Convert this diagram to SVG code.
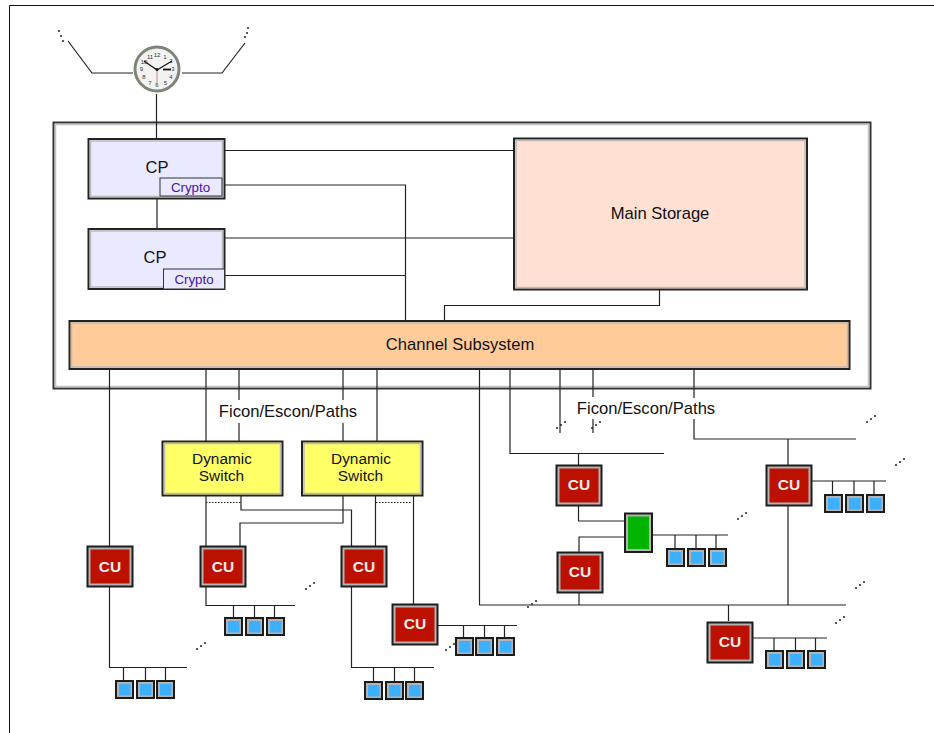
<svg xmlns="http://www.w3.org/2000/svg" xmlns:xlink="http://www.w3.org/1999/xlink" width="934" height="733" viewBox="0 0 934 733">
<style>
text{font-family:"Liberation Sans",Arial,sans-serif;text-anchor:middle;fill:#111}
.c{fill:none;stroke:#222;stroke-width:1.2}
.d{fill:none;stroke:#222;stroke-width:1;stroke-dasharray:1.5 1.5}
.o{stroke:#1c1c1c;stroke-width:2;fill:#b4b4b4}
.cu{fill:#bc1000}
.cut{font-size:15.5px;font-weight:bold;fill:#f4ece8}
.dot{fill:#222}
.t{font-size:16.6px}
.s{font-size:15.4px}
.cr{font-size:13.3px;fill:#4a12ac}
.n{font-size:6px;fill:#333}
</style>
<defs>
<g id="term"><rect class="o" x="1" y="1" width="17" height="17"/><rect x="4" y="4" width="11.500" height="11.500" fill="#3cb0ff"/></g>
<g id="cuBox"><rect class="o" x=".5" y=".5" width="45" height="40"/><rect class="cu" x="3.500" y="3.500" width="39" height="34"/></g>
<g id="dots"><circle class="dot" cx="0" cy="6" r="1"/><circle class="dot" cx="4" cy="3" r="1"/><circle class="dot" cx="8" cy="0" r="1"/></g>
</defs>
<rect width="934" height="733" fill="#fff"/>
<path d="M934 5.500H9.500V733" fill="none" stroke="#111" stroke-width="1"/>

<g id="system-box"><rect x="53.500" y="122.500" width="817" height="266" fill="#fff" stroke="#333" stroke-width="2"/><rect x="55.500" y="124.500" width="813" height="262" fill="none" stroke="#c4c4c4" stroke-width="1.500"/></g>

<g id="connectors">
<path class="c" d="M68 41L92 73H133M245 43L222 73H182M156.500 94V139"/>
<path class="c" d="M225 150.500H514M225 185H405.500V321M225 238H514M225 275.500H405.500M659.500 290V305.500H444.500V321"/>
<path class="c" d="M157 199V229"/>
<path class="c" d="M109.500 369V546M109.500 587V667.500H187M123.500 667V681M145.500 667V681M165.500 667V681"/>
<path class="c" d="M206 369V441M239 369V400M239 423V441M343 369V400M343 423V441M377 369V441"/>
<path class="c" d="M206 496V546M241 496V510H351.500V546M343 496V523H240V546M375.500 496V546M413.500 496V604"/>
<path class="d" d="M206 502.500H241M376 502.500H412"/>
<path class="c" d="M206 587V605.500H295M233.500 605V618M254.500 605V618M274.500 605V618"/>
<path class="c" d="M351.500 587V667.500H434M373.500 667V682M394.500 667V682M414.500 667V682"/>
<path class="c" d="M438 625.500H517M463.500 625V638M484.500 625V638M504.500 625V638"/>
<path class="c" d="M479.500 369V605H846M510 369V453.500H664M560 369V433M593 369V397M593 419V433M694 369V398M694 419V439H856"/>
<path class="c" d="M578.500 453V465M578.500 506V521H624M579 552V537H624M579 593V605M652 535H728M675 535V549M696 535V549M716 535V549"/>
<path class="c" d="M788 439V465M788 506V605M811 481H886M832.500 481V495M854 481V495M874 481V495"/>
<path class="c" d="M728.500 605V621M753 638H827M774 638V651M795.500 638V651M815.500 638V651"/>
</g>

<g id="ellipses">
<circle class="dot" cx="59" cy="31" r="1"/><circle class="dot" cx="61" cy="36" r="1"/><circle class="dot" cx="63" cy="41" r="1"/>
<circle class="dot" cx="248" cy="28" r="1"/><circle class="dot" cx="247" cy="33" r="1"/><circle class="dot" cx="245" cy="37" r="1"/>
<use xlink:href="#dots" x="197" y="643"/><use xlink:href="#dots" x="306" y="583"/><use xlink:href="#dots" x="446" y="644"/><use xlink:href="#dots" x="528" y="601"/>
<use xlink:href="#dots" x="557" y="422"/><use xlink:href="#dots" x="592" y="422"/><use xlink:href="#dots" x="738" y="513"/><use xlink:href="#dots" x="867" y="416"/>
<use xlink:href="#dots" x="896" y="459"/><use xlink:href="#dots" x="856" y="582"/><use xlink:href="#dots" x="836" y="617"/>
</g>

<g id="clock">
<circle cx="157" cy="69" r="22" fill="#f2f2f0" stroke="#7f8478" stroke-width="3"/>
<text class="n" x="157" y="57">12</text><text class="n" x="165" y="58.500">1</text><text class="n" x="171" y="63">2</text><text class="n" x="173" y="71">3</text><text class="n" x="171" y="79">4</text><text class="n" x="165.500" y="85">5</text><text class="n" x="157" y="87">6</text><text class="n" x="150" y="85">7</text><text class="n" x="144" y="79">8</text><text class="n" x="141.500" y="71">9</text><text class="n" x="144" y="64">10</text><text class="n" x="150" y="58.500">11</text>
<path d="M157 69V83" stroke="#b06060" stroke-width=".7" fill="none"/>
<path d="M157 70L144 61M157 70L172 61" stroke="#111" stroke-width="1.200" fill="none"/>
<path d="M163 69.500H171" stroke="#111" stroke-width="1.800" fill="none"/>
<circle cx="157" cy="69.500" r="1.500" fill="#111"/>
</g>

<g id="cp1"><rect x="88.500" y="139" width="136" height="59.500" fill="#e9e9ff" stroke="#222" stroke-width="2"/><rect x="90.500" y="141" width="132" height="55.500" fill="none" stroke="#bbb" stroke-width="1.500"/><text x="157" y="173" font-size="16.500">CP</text></g>
<g id="crypto1"><rect x="160" y="178" width="62" height="18" fill="#e9e9ff" stroke="#333" stroke-width="1"/><text class="cr" x="190.500" y="192">Crypto</text></g>
<g id="cp2"><rect x="88.500" y="229" width="136" height="60" fill="#e9e9ff" stroke="#222" stroke-width="2"/><rect x="90.500" y="231" width="132" height="56" fill="none" stroke="#bbb" stroke-width="1.500"/><text x="155" y="263" font-size="16.500">CP</text></g>
<g id="crypto2"><rect x="163.500" y="269" width="61" height="20" fill="#e9e9ff" stroke="#333" stroke-width="1"/><text class="cr" x="194" y="284">Crypto</text></g>

<g id="main-storage"><rect x="514" y="138.500" width="293" height="151" fill="#ffe0d2" stroke="#222" stroke-width="2"/><rect x="516" y="140.500" width="289" height="147" fill="none" stroke="#bbb" stroke-width="1.500"/><text class="t" x="660" y="219">Main Storage</text></g>
<g id="channel-subsystem"><rect x="69.500" y="321" width="780" height="48" fill="#ffcc99" stroke="#222" stroke-width="2"/><rect x="71.500" y="323" width="776" height="44" fill="none" stroke="#bbb" stroke-width="1.500"/><text class="t" x="460" y="350">Channel Subsystem</text></g>

<g id="label-paths-1"><text class="t" x="288" y="417">Ficon/Escon/Paths</text></g>
<g id="label-paths-2"><text class="t" x="646" y="414">Ficon/Escon/Paths</text></g>

<g id="switch1"><rect x="162.500" y="441.500" width="120" height="54" fill="#ffff66" stroke="#222" stroke-width="2"/><rect x="164.500" y="443.500" width="116" height="50" fill="none" stroke="#bbb" stroke-width="1.500"/><text class="s" x="222" y="464">Dynamic</text><text class="s" x="221.500" y="481">Switch</text></g>
<g id="switch2"><rect x="302" y="441.500" width="120.500" height="54" fill="#ffff66" stroke="#222" stroke-width="2"/><rect x="304" y="443.500" width="116.500" height="50" fill="none" stroke="#bbb" stroke-width="1.500"/><text class="s" x="361" y="464">Dynamic</text><text class="s" x="360.500" y="481">Switch</text></g>

<g id="cu1"><use xlink:href="#cuBox" x="87" y="546"/><text class="cut" x="110" y="572">CU</text></g>
<g id="cu2"><use xlink:href="#cuBox" x="200" y="546"/><text class="cut" x="223" y="572">CU</text></g>
<g id="cu3"><use xlink:href="#cuBox" x="341" y="546"/><text class="cut" x="364" y="572">CU</text></g>
<g id="cu4"><use xlink:href="#cuBox" x="392" y="604"/><text class="cut" x="415" y="629">CU</text></g>
<g id="cu5"><use xlink:href="#cuBox" x="556" y="465"/><text class="cut" x="579" y="490">CU</text></g>
<g id="cu6"><use xlink:href="#cuBox" x="557" y="552"/><text class="cut" x="580" y="577">CU</text></g>
<g id="cu7"><use xlink:href="#cuBox" x="766" y="465"/><text class="cut" x="789" y="490">CU</text></g>
<g id="cu8"><use xlink:href="#cuBox" x="707" y="622"/><text class="cut" x="730" y="647">CU</text></g>
<g id="green-switch"><rect class="o" x="625" y="513.500" width="27" height="38.500"/><rect x="628" y="516.500" width="21" height="32.500" fill="#00b400"/></g>

<g id="terminals-a"><use xlink:href="#term" x="115" y="680"/><use xlink:href="#term" x="136" y="680"/><use xlink:href="#term" x="156" y="680"/></g>
<g id="terminals-b"><use xlink:href="#term" x="224" y="617"/><use xlink:href="#term" x="245" y="617"/><use xlink:href="#term" x="266" y="617"/></g>
<g id="terminals-c"><use xlink:href="#term" x="364" y="681"/><use xlink:href="#term" x="385" y="681"/><use xlink:href="#term" x="405" y="681"/></g>
<g id="terminals-d"><use xlink:href="#term" x="455" y="637"/><use xlink:href="#term" x="475" y="637"/><use xlink:href="#term" x="496" y="637"/></g>
<g id="terminals-e"><use xlink:href="#term" x="666" y="548"/><use xlink:href="#term" x="687" y="548"/><use xlink:href="#term" x="708" y="548"/></g>
<g id="terminals-f"><use xlink:href="#term" x="824" y="494"/><use xlink:href="#term" x="845" y="494"/><use xlink:href="#term" x="866" y="494"/></g>
<g id="terminals-g"><use xlink:href="#term" x="765" y="650"/><use xlink:href="#term" x="786" y="650"/><use xlink:href="#term" x="807" y="650"/></g>
</svg>
